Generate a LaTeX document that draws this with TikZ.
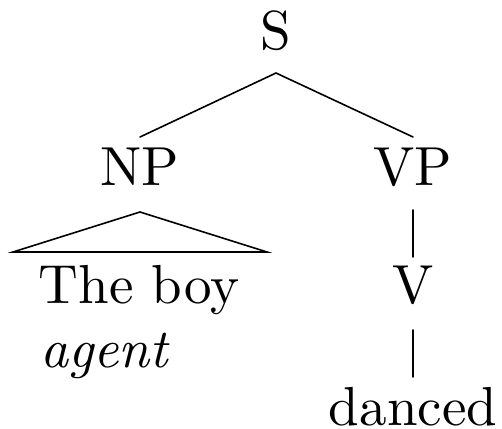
\documentclass[tikz,border=0pt]{standalone}
\usepackage{fontspec}
\setmainfont{lmroman10-regular.otf}[ItalicFont=lmroman10-italic.otf, BoldFont=lmroman10-bold.otf]
\tikzset{
  lbl/.style={inner sep=0pt, anchor=base, font=\fontsize{55}{60}\selectfont},
  edge/.style={line width=1.6pt, line cap=round, line join=miter}
}
\begin{document}
\begin{tikzpicture}[x=1pt,y=-1pt]
\useasboundingbox (0,0) rectangle (502,428);
\node[lbl] (S) at (276,49) {S};
\node[lbl] (NP) at (140,185) {NP};
\node[lbl] (VP) at (413,185) {VP};
\node[lbl] (boy) at (139,303) {The boy};
\node[lbl] (V) at (413,303) {V};
\node[lbl, anchor=base west] (agent) at (40,367) {\itshape agent};
\node[lbl] (danced) at (413,425) {danced};
\draw[edge] ([yshift=-24pt]S.base) -- ([yshift=48pt]NP.base);
\draw[edge] ([yshift=-24pt]S.base) -- ([yshift=48pt]VP.base);
\draw[edge] ([yshift=-27pt]NP.base) -- ([shift={(-126pt,51pt)}]boy.base) -- ([shift={(128pt,51pt)}]boy.base) -- cycle;
\draw[edge] ([yshift=-25pt]VP.base) -- ([yshift=46pt]V.base);
\draw[edge] ([yshift=-27pt]V.base) -- ([yshift=48pt]danced.base);
\end{tikzpicture}
\end{document}
